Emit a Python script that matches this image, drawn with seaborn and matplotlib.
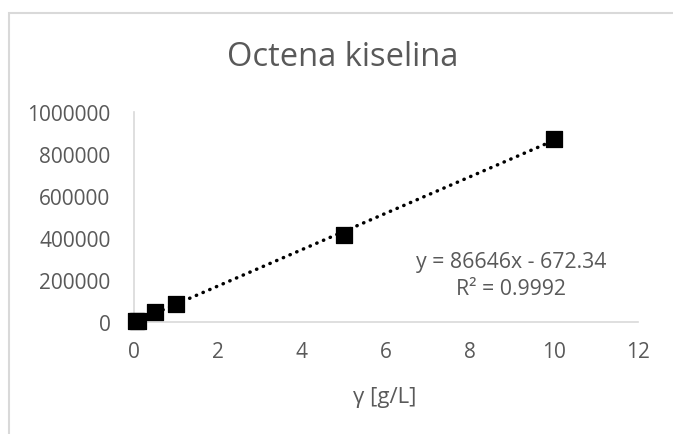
import numpy as np
import pandas as pd
import matplotlib
matplotlib.use("Agg")
import matplotlib.pyplot as plt
from matplotlib.patches import Rectangle
import seaborn as sns

# Data
conc = [0.05, 0.1, 0.5, 1, 5, 10]
area = [3000, 7000, 50000, 84000, 415000, 873000]
x_ticks = [0, 2, 4, 6, 8, 10, 12]
y_ticks = [0, 200000, 400000, 600000, 800000, 1000000]
title = "Octena kiselina"
x_label = "γ [g/L]"
equation = "y = 86646x - 672.34\nR² = 0.9992"

GRAY_TEXT = "#595959"
GRAY_LINE = "#d9d9d9"

sns.set_style("white")
plt.rcParams["font.family"] = ["Open Sans", "DejaVu Sans"]

df = pd.DataFrame({"conc": conc, "area": area})

W, H = 673, 435
fig = plt.figure(figsize=(W / 100, H / 100), dpi=100)
ax = fig.add_axes([134 / W, (H - 323) / H, (638 - 134) / W, (323 - 113) / H])

# trendline first so the markers sit on top of it
sns.regplot(data=df, x="conc", y="area", ax=ax, scatter=False, ci=None,
            truncate=True,
            line_kws=dict(color="black", linewidth=2.5,
                          linestyle=(0, (0.1, 2.0)), dash_capstyle="round"))
sns.scatterplot(data=df, x="conc", y="area", ax=ax, marker="s", s=130,
                color="black", edgecolor="black", zorder=3, clip_on=False)

ax.set_xlim(0, 12)
ax.set_ylim(0, 1000000)
ax.set_xticks(x_ticks)
ax.set_yticks(y_ticks)
ax.set_xticklabels([str(t) for t in x_ticks])
ax.set_yticklabels([str(t) for t in y_ticks])
ax.tick_params(axis="both", length=0, labelsize=15, colors=GRAY_TEXT)
ax.tick_params(axis="y", pad=17)
ax.tick_params(axis="x", pad=14)
ax.set_xlabel("")
ax.set_ylabel("")

for side in ["top", "right"]:
    ax.spines[side].set_visible(False)
for side in ["left", "bottom"]:
    ax.spines[side].set_color(GRAY_LINE)
    ax.spines[side].set_linewidth(1.2)

fig.text(343 / W, 1 - 57 / H, title, ha="center", va="center",
         fontsize=23.5, color=GRAY_TEXT)
fig.text(385 / W, 1 - 398 / H, x_label, ha="center", va="center",
         fontsize=16, color=GRAY_TEXT)
fig.text(511 / W, 1 - 276 / H, equation, ha="center", va="center",
         fontsize=15.3, color=GRAY_TEXT, linespacing=1.4)

# chart border (only top and left edges are visible in the crop)
fig.add_artist(Rectangle((9 / W, -0.05), 1.2, 1 - 13.5 / H + 0.05,
                         transform=fig.transFigure, fill=False,
                         edgecolor=GRAY_LINE, linewidth=1.5))

fig.savefig("out.png", dpi=100)
